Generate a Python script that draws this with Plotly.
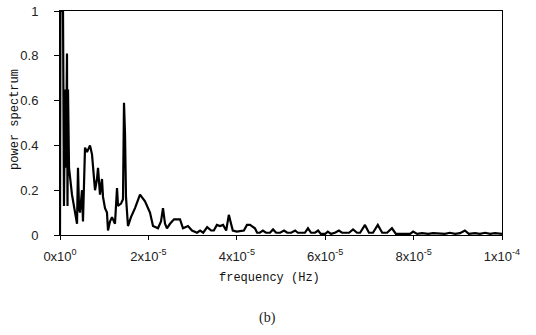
import plotly.graph_objects as go

# frequency in micro-Hz (x 1e-6 Hz)
freq_uhz = [0, 0.1, 0.68, 0.9, 1.13, 1.36, 1.58, 1.7, 1.81, 2.04, 2.71, 3.85, 4.07, 4.3, 4.52,
            4.98, 5.2, 5.66, 6.11, 6.79, 7.24, 7.92, 8.37, 8.6, 9.05, 9.5, 9.73, 10.18, 10.63,
            10.86, 11.31, 11.76, 12.44, 12.9, 13.12, 13.8, 14.25, 14.48, 14.71, 14.93, 15.38,
            16.06, 16.97, 18.1, 19.23, 20.36, 21.04, 22.17, 22.85, 23.3, 23.76, 24.2, 24.89,
            25.79, 26.47, 27.15, 27.83, 28.96, 29.86, 31.0,
            31.7, 32.4, 33.3, 34.2, 34.8, 35.5, 36.2, 36.9, 37.6, 38.2, 38.7, 39.1, 40.0, 41.0,
            41.6, 42.3, 43.0, 43.4, 44.1, 44.6, 45.2, 45.9, 46.6, 47.5, 48.2, 48.9, 49.8, 50.7,
            51.4, 52.3, 53.2, 53.8, 54.8, 55.4, 56.1, 56.8, 57.7, 58.4, 59.0, 60.0, 60.6, 61.3,
            62.2, 63.1, 63.8, 64.7, 65.4, 66.3, 67.2, 67.9, 69.0, 69.9, 70.8, 71.9, 72.9, 74.0,
            75.1, 76.0, 76.9, 78.1, 79.2, 79.9, 80.8, 81.9, 83.3, 84.4, 86.0, 87.1, 88.2, 89.4,
            90.5, 91.6, 92.5, 93.9, 95.0, 96.2, 97.3, 98.4, 100.0]

power = [0.0, 1.0, 1.0, 0.13, 0.65, 0.3, 0.81, 0.13, 0.65, 0.3, 0.18, 0.05, 0.30, 0.12, 0.10,
         0.20, 0.06, 0.39, 0.37, 0.40, 0.36, 0.20, 0.25, 0.30, 0.18, 0.25, 0.17, 0.12, 0.10,
         0.02, 0.06, 0.08, 0.05, 0.21, 0.13, 0.14, 0.16, 0.59, 0.45, 0.17, 0.04,
         0.08, 0.12, 0.18, 0.15, 0.10, 0.04, 0.03, 0.06, 0.12, 0.05, 0.03, 0.05,
         0.07, 0.07, 0.07, 0.03, 0.04, 0.02, 0.01,
         0.02, 0.01, 0.035, 0.02, 0.02, 0.045, 0.04, 0.045, 0.02, 0.09, 0.05, 0.02, 0.015, 0.02,
         0.02, 0.045, 0.045, 0.04, 0.03, 0.01, 0.01, 0.02, 0.01, 0.01, 0.025, 0.01, 0.01, 0.02,
         0.01, 0.01, 0.02, 0.01, 0.01, 0.01, 0.03, 0.01, 0.01, 0.02, 0.005, 0.005, 0.015, 0.005,
         0.01, 0.02, 0.01, 0.01, 0.01, 0.025, 0.01, 0.01, 0.045, 0.01, 0.01, 0.045, 0.01, 0.01,
         0.03, 0.005, 0.005, 0.008, 0.005, 0.015, 0.005, 0.008, 0.005, 0.008, 0.005, 0.005, 0.01, 0.005,
         0.008, 0.02, 0.005, 0.008, 0.005, 0.01, 0.005, 0.008, 0.005]

x_tick_vals = [0, 2e-5, 4e-5, 6e-5, 8e-5, 1e-4]
x_tick_text = ["0x10<sup>0</sup>", "2x10<sup>-5</sup>", "4x10<sup>-5</sup>",
               "6x10<sup>-5</sup>", "8x10<sup>-5</sup>", "1x10<sup>-4</sup>"]
y_tick_vals = [0, 0.2, 0.4, 0.6, 0.8, 1]
y_tick_text = ["0", "0.2", "0.4", "0.6", "0.8", "1"]

freq_hz = [f * 1e-6 for f in freq_uhz]

fig = go.Figure()
fig.add_trace(go.Scatter(x=freq_hz, y=power, mode="lines",
                         line=dict(color="black", width=2.2), showlegend=False))

sans = "Liberation Sans, Arial, sans-serif"
mono = "Liberation Mono, Courier New, monospace"

fig.update_layout(
    width=536, height=335,
    margin=dict(l=60, r=34, t=11, b=100),
    paper_bgcolor="white", plot_bgcolor="white",
    xaxis=dict(range=[0, 1e-4], tickvals=x_tick_vals, ticktext=x_tick_text,
               showgrid=False, zeroline=False, showline=True, linecolor="black",
               linewidth=1, mirror=True, ticks="outside", ticklen=4, tickcolor="black",
               ticklabelstandoff=5, automargin=False,
               tickfont=dict(family=sans, size=13, color="#222")),
    yaxis=dict(range=[0, 1], tickvals=y_tick_vals, ticktext=y_tick_text,
               showgrid=False, zeroline=False, showline=True, linecolor="black",
               linewidth=1, mirror=True, ticks="outside", ticklen=5, tickcolor="black",
               ticklabelstandoff=13, automargin=False,
               tickfont=dict(family=sans, size=13, color="#222")),
    annotations=[
        dict(text="power spectrum", xref="paper", yref="paper", x=-0.102, y=0.518,
             xanchor="center", yanchor="middle", textangle=-90, showarrow=False,
             font=dict(family=mono, size=12, color="#111")),
        dict(text="frequency (Hz)", xref="paper", yref="paper", x=0.475, y=-0.192,
             xanchor="center", yanchor="middle", showarrow=False,
             font=dict(family=mono, size=12, color="#111")),
        dict(text="(b)", xref="paper", yref="paper", x=0.47, y=-0.37,
             xanchor="center", yanchor="middle", showarrow=False,
             font=dict(family="Liberation Serif, Times New Roman, serif", size=14,
                       color="#222"))],
)

fig.write_html("out.html", config={"displayModeBar": False},
               post_script="document.body.style.margin='0';document.body.style.overflow='hidden';")
